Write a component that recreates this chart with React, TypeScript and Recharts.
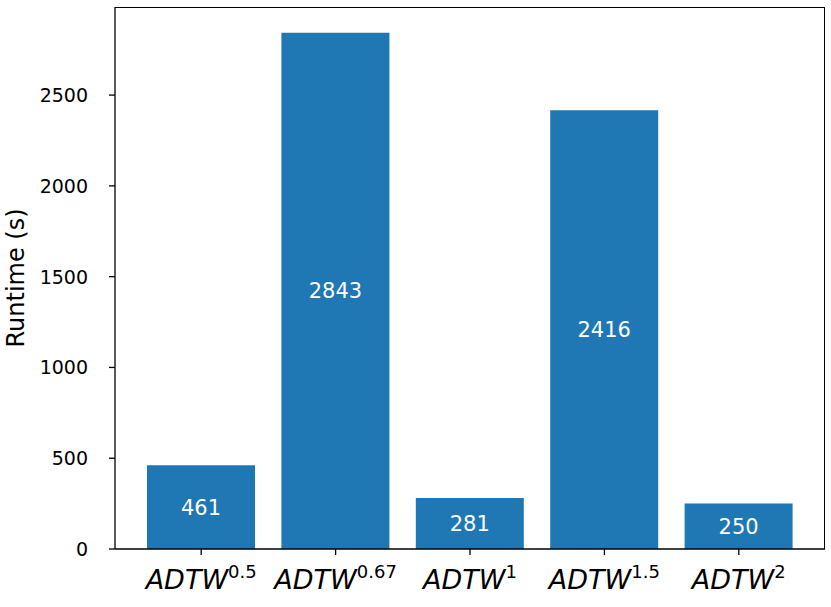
import { BarChart, Bar, XAxis, YAxis, LabelList, Label } from 'recharts';

const exponents = ['0.5', '0.67', '1', '1.5', '2'];
const runtimes = [461, 2843, 281, 2416, 250];
const yTicks = [0, 500, 1000, 1500, 2000, 2500];

const data = exponents.map((e, i) => ({ name: e, runtime: runtimes[i] }));

const font = '"DejaVu Sans", sans-serif';

function AdtwTick({ x, y, payload }: any) {
  return (
    <text x={x} y={y + 32} textAnchor="middle" fontFamily={font} fill="#000">
      <tspan fontStyle="italic" fontSize={27}>ADTW</tspan>
      <tspan fontSize={18} dy={-11}>{payload.value}</tspan>
    </text>
  );
}

function ValueTick({ x, y, payload }: any) {
  return (
    <text x={x} y={y} textAnchor="end" dominantBaseline="central" fontFamily={font} fontSize={19} fill="#000">
      {payload.value}
    </text>
  );
}

export default function App() {
  return (
    <div style={{ position: 'absolute', left: 0, top: 0, width: 831, height: 607, background: '#fff' }}>
      <BarChart
        width={831}
        height={607}
        data={data}
        margin={{ top: 7, right: 6, left: 0, bottom: 0 }}
      >
        <XAxis
          dataKey="name"
          height={58}
          padding={{ left: 19, right: 19 }}
          axisLine={{ stroke: '#000', strokeWidth: 1.3 }}
          tickLine={{ stroke: '#000', strokeWidth: 1.3 }}
          tickSize={6}
          tick={<AdtwTick />}
          interval={0}
        />
        <YAxis
          width={115}
          domain={[0, 2985.15]}
          ticks={yTicks}
          allowDataOverflow
          axisLine={{ stroke: '#000', strokeWidth: 1.3 }}
          tickLine={{ stroke: '#000', strokeWidth: 1.3 }}
          tickSize={6}
          tickMargin={21}
          tick={<ValueTick />}
        >
          <Label
            value="Runtime (s)"
            angle={-90}
            position="insideLeft"
            offset={15}
            style={{ textAnchor: 'middle', fontSize: 24, fontFamily: font, fill: '#000' }}
          />
        </YAxis>
        <Bar dataKey="runtime" fill="#1f77b4" barSize={108} isAnimationActive={false}>
          <LabelList dataKey="runtime" position="center" fill="#fff" fontSize={21} fontFamily={font} />
        </Bar>
      </BarChart>
      {/* top and right spines */}
      <div
        style={{
          position: 'absolute',
          left: 115,
          top: 7,
          width: 710,
          height: 542,
          borderTop: '1.3px solid #000',
          borderRight: '1.3px solid #000',
          boxSizing: 'border-box',
          pointerEvents: 'none',
        }}
      />
    </div>
  );
}
